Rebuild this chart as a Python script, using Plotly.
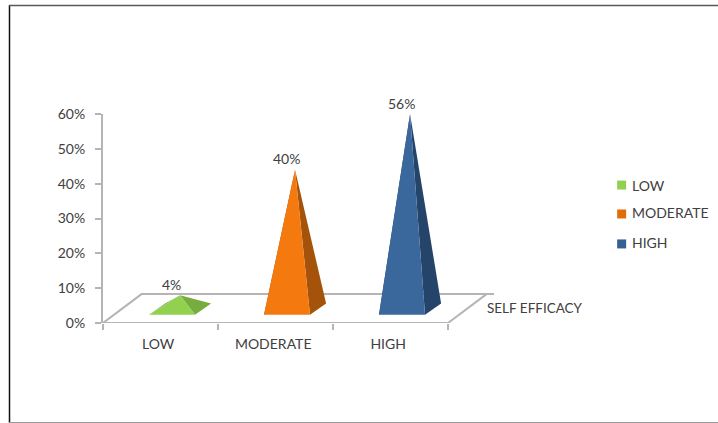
import plotly.graph_objects as go

# Self-efficacy levels and their shares (percent)
categories = ["LOW", "MODERATE", "HIGH"]
values = [4, 40, 56]
y_ticks = [0, 10, 20, 30, 40, 50, 60]
y_tick_labels = ["0%", "10%", "20%", "30%", "40%", "50%", "60%"]
depth_label = "SELF EFFICACY"

FRONT = ["#92D050", "#F47A10", "#3A679C"]
SIDE = ["#76AD3E", "#A5530A", "#254469"]
KEY = ["#92D050", "#E36C0A", "#376092"]
GRID = "#B5B5B5"
TEXT = "#404040"
FONT = "Lato"

W, H = 718, 423
L, R, T, B = 103, 40, 114, 100

# Oblique projection of the floor, in axis units
FLOOR_DX, FLOOR_DY = 0.335, 8.3
FLOOR_END = 3.4
X_MAX = 5.0
BASE_HALF = 0.2
BASE_DX, BASE_DY = 0.14, 3.2
LIFT = 4.0  # height of a pyramid's base centre above the axis floor
BASE_FRONT = LIFT - BASE_DY / 2

# Key placement, in axis units
KEY_X = 4.51
KEY_Y = [39.6, 31.3, 22.7]
KEY_TEXT_Y = [39.6, 31.6, 23.0]


def px_x(p):
    return (p - L) / (W - L - R)


def px_y(p):
    return (H - B - p) / (H - T - B)


fig = go.Figure()

# Floor outline and front edge of the category axis
fig.add_trace(go.Scatter(
    x=[0, FLOOR_DX, FLOOR_END, None, 3, FLOOR_DX + 3, None, 0, 3],
    y=[0, FLOOR_DY, FLOOR_DY, None, 0, FLOOR_DY, None, 0, 0],
    mode="lines", line=dict(color=GRID, width=2),
    showlegend=False, hoverinfo="skip", cliponaxis=False,
))

# One pyramid per category: hidden-side sliver, right face, front face
for i, v in enumerate(values):
    cx = i + 0.6
    xl, xr = cx - BASE_HALF, cx + BASE_HALF
    ax = cx + BASE_DX / 2
    ay = v + LIFT
    faces = [
        ([xl, xl + BASE_DX, ax, xl], [BASE_FRONT, BASE_FRONT + BASE_DY, ay, BASE_FRONT], SIDE[i]),
        ([xr, xr + BASE_DX, ax, xr], [BASE_FRONT, BASE_FRONT + BASE_DY, ay, BASE_FRONT], SIDE[i]),
        ([xl, xr, ax, xl], [BASE_FRONT, BASE_FRONT, ay, BASE_FRONT], FRONT[i]),
    ]
    for fx, fy, col in faces:
        fig.add_trace(go.Scatter(
            x=fx, y=fy, mode="lines", fill="toself", fillcolor=col,
            line=dict(width=0, color=col), showlegend=False,
            hoverinfo="skip", cliponaxis=False,
        ))
    fig.add_annotation(
        x=cx, y=ay, text=f"{v}%", showarrow=False, yshift=11, xshift=-1,
        xanchor="center", yanchor="middle",
        font=dict(family=FONT, size=14, color=TEXT),
    )

# Square colour keys with their category names
for name, col, ky, ty in zip(categories, KEY, KEY_Y, KEY_TEXT_Y):
    fig.add_trace(go.Scatter(
        x=[KEY_X], y=[ky], mode="markers", name=name,
        marker=dict(symbol="square", size=9, color=col),
        showlegend=False, hoverinfo="skip", cliponaxis=False,
    ))
    fig.add_annotation(
        x=KEY_X, y=ty, text=name, showarrow=False, xshift=8,
        xanchor="left", yanchor="middle",
        font=dict(family=FONT, size=14, color=TEXT),
    )

fig.add_annotation(
    x=FLOOR_DX + 3, y=4.2, text=depth_label, showarrow=False,
    xanchor="left", yanchor="middle", xshift=-2,
    font=dict(family=FONT, size=13.5, color=TEXT),
)

# Page frame
frame = dict(type="line", xref="paper", yref="paper", layer="above")
fig.add_shape(x0=px_x(9.5), x1=px_x(9.5), y0=px_y(5), y1=px_y(423),
              line=dict(color="#111111", width=1.5), **frame)
fig.add_shape(x0=px_x(9), x1=px_x(718), y0=px_y(5.5), y1=px_y(5.5),
              line=dict(color="#595959", width=1.5), **frame)
fig.add_shape(x0=px_x(9), x1=px_x(718), y0=px_y(422.5), y1=px_y(422.5),
              line=dict(color="#999999", width=1), **frame)

fig.update_layout(
    width=W, height=H, showlegend=False,
    margin=dict(l=L, r=R, t=T, b=B, autoexpand=False),
    paper_bgcolor="white", plot_bgcolor="white",
    font=dict(family=FONT, size=14, color=TEXT),
    xaxis=dict(
        range=[0, X_MAX], showgrid=False, zeroline=False, showline=False,
        tickmode="array",
        tickvals=[i + 0.48 for i in range(len(categories))],
        ticktext=categories, ticks="", tickfont=dict(family=FONT, size=14, color=TEXT),
        ticklabelstandoff=11,
        minor=dict(tickmode="array", tickvals=[0, 1, 2, 3], ticks="outside",
                   ticklen=6, tickwidth=2, tickcolor=GRID, showgrid=False),
    ),
    yaxis=dict(
        range=[0, 60], tickmode="array", tickvals=y_ticks, ticktext=y_tick_labels,
        showgrid=False, zeroline=False, showline=True, linecolor=GRID, linewidth=2,
        ticks="outside", ticklen=6, tickwidth=2, tickcolor=GRID, ticklabelstandoff=7,
        tickfont=dict(family=FONT, size=14, color=TEXT),
    ),
)

fig.write_html("out.html")
